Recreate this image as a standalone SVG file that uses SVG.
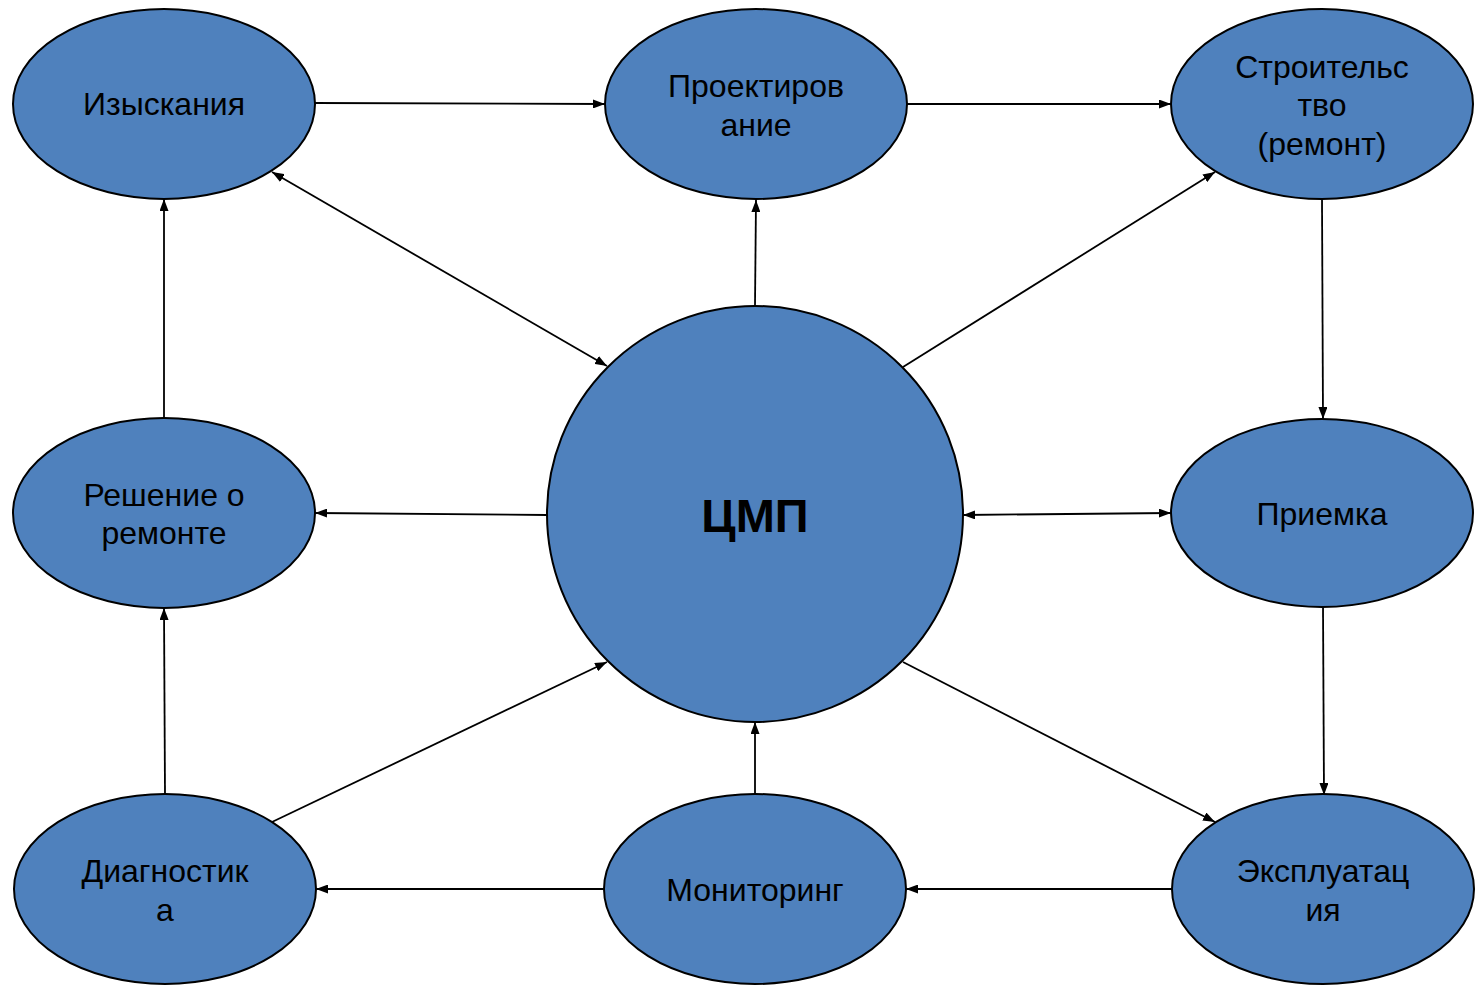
<svg xmlns="http://www.w3.org/2000/svg" width="1476" height="986" viewBox="0 0 1476 986">
<style>
.n{fill:#4F81BD;stroke:#000;stroke-width:2}
.t{font-family:"Liberation Sans",Arial,sans-serif;font-size:32px;fill:#000;text-anchor:middle}
.b{font-family:"Liberation Sans",Arial,sans-serif;font-size:47px;font-weight:bold;fill:#000;text-anchor:middle}
.c{stroke:#000;stroke-width:1.8;fill:none;marker-end:url(#a)}
.d{marker-start:url(#s)}
</style>
<defs>
<marker id="a" viewBox="0 0 12 9" refX="12" refY="4.5" markerWidth="12" markerHeight="9" markerUnits="userSpaceOnUse" orient="auto"><path d="M0,0 L12,4.5 L0,9 z" fill="#000"/></marker>
<marker id="s" viewBox="0 0 12 9" refX="0" refY="4.5" markerWidth="12" markerHeight="9" markerUnits="userSpaceOnUse" orient="auto"><path d="M12,0 L0,4.5 L12,9 z" fill="#000"/></marker>
</defs>
<rect width="1476" height="986" fill="#fff"/>
<g id="connectors">
<line class="c" x1="315" y1="103" x2="605" y2="104"/>
<line class="c" x1="907" y1="104" x2="1171" y2="104"/>
<line class="c d" x1="272" y1="172" x2="607" y2="366"/>
<line class="c" x1="755" y1="306" x2="756" y2="200"/>
<line class="c" x1="903" y1="367" x2="1215" y2="172"/>
<line class="c" x1="1322" y1="199" x2="1323" y2="419"/>
<line class="c d" x1="963" y1="515" x2="1171" y2="513"/>
<line class="c" x1="547" y1="515" x2="315" y2="513"/>
<line class="c" x1="164" y1="418" x2="164" y2="199"/>
<line class="c" x1="165" y1="795" x2="164" y2="608"/>
<line class="c" x1="272" y1="822" x2="607" y2="662"/>
<line class="c" x1="755" y1="795" x2="755" y2="722"/>
<line class="c" x1="604" y1="889" x2="316" y2="889"/>
<line class="c" x1="1172" y1="889" x2="906" y2="889"/>
<line class="c" x1="1323" y1="606" x2="1324" y2="795"/>
<line class="c" x1="903" y1="662" x2="1215" y2="822"/>
</g>
<g id="izyskaniya"><ellipse class="n" cx="164" cy="104" rx="151" ry="95"/><text class="t" x="164" y="115">Изыскания</text></g>
<g id="proektirovanie"><ellipse class="n" cx="756" cy="104" rx="151" ry="95"/><text class="t" x="756" y="97">Проектиров</text><text class="t" x="756" y="136">ание</text></g>
<g id="stroitelstvo"><ellipse class="n" cx="1322" cy="104" rx="151" ry="95"/><text class="t" x="1322" y="78">Строительс</text><text class="t" x="1322" y="116">тво</text><text class="t" x="1322" y="155">(ремонт)</text></g>
<g id="reshenie"><ellipse class="n" cx="164" cy="513" rx="151" ry="95"/><text class="t" x="164" y="506">Решение о</text><text class="t" x="164" y="544">ремонте</text></g>
<g id="cmp"><circle class="n" cx="755" cy="514" r="208"/><text class="b" x="755" y="532">ЦМП</text></g>
<g id="priemka"><ellipse class="n" cx="1322" cy="513" rx="151" ry="94"/><text class="t" x="1322" y="525">Приемка</text></g>
<g id="diagnostika"><ellipse class="n" cx="165" cy="889" rx="151" ry="95"/><text class="t" x="165" y="882">Диагностик</text><text class="t" x="165" y="921">а</text></g>
<g id="monitoring"><ellipse class="n" cx="755" cy="889" rx="151" ry="95"/><text class="t" x="755" y="901">Мониторинг</text></g>
<g id="ekspluataciya"><ellipse class="n" cx="1323" cy="889" rx="151" ry="95"/><text class="t" x="1323" y="882">Эксплуатац</text><text class="t" x="1323" y="921">ия</text></g>
</svg>
